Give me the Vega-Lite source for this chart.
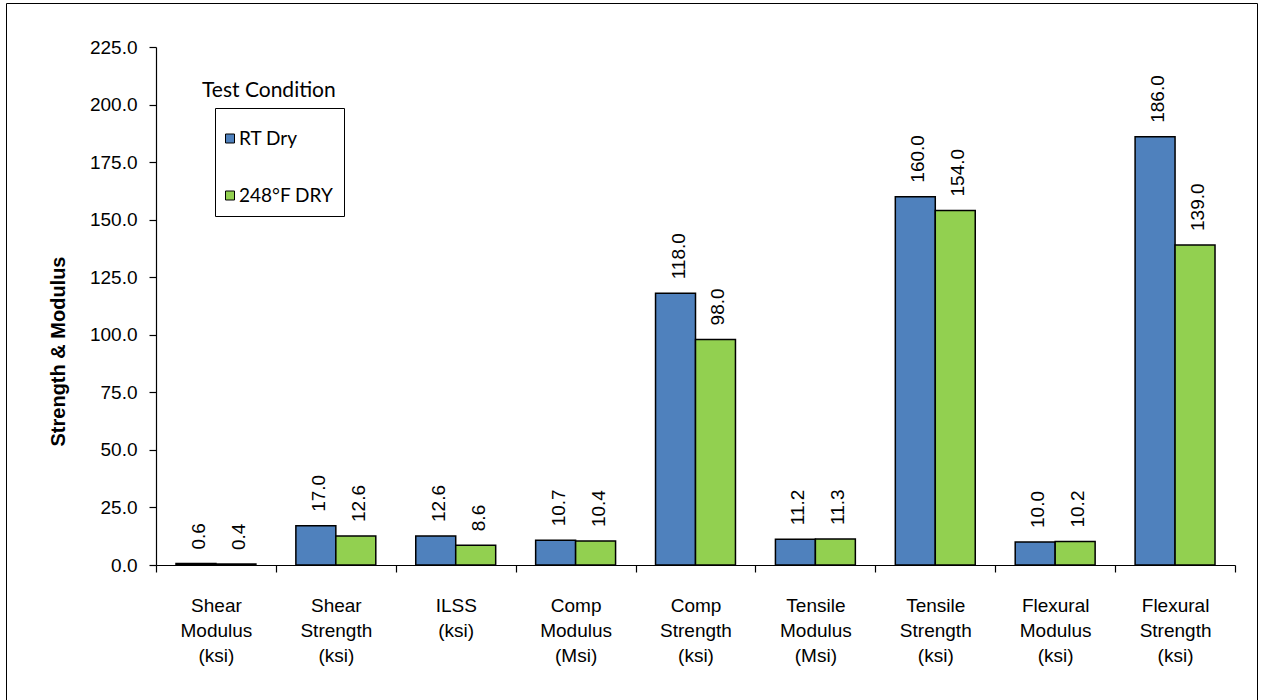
{
  "$schema": "https://vega.github.io/schema/vega-lite/v6.json",
  "autosize": {"type": "none"},
  "padding": {"left": 6, "top": 3, "right": 5, "bottom": 0},
  "width": 1251,
  "height": 700,
  "background": "white",
  "title": {
    "text": "Test Condition",
    "anchor": "start",
    "frame": "group",
    "orient": "top",
    "offset": 0,
    "dx": 196,
    "dy": 115,
    "baseline": "alphabetic",
    "font": "Lato",
    "fontSize": 21,
    "fontWeight": "normal",
    "color": "#000"
  },
  "data": {
    "values": [
      {"property": "Shear Modulus (ksi)", "condition": "RT Dry", "value": 0.6},
      {"property": "Shear Modulus (ksi)", "condition": "248°F DRY", "value": 0.4},
      {"property": "Shear Strength (ksi)", "condition": "RT Dry", "value": 17.0},
      {"property": "Shear Strength (ksi)", "condition": "248°F DRY", "value": 12.6},
      {"property": "ILSS (ksi)", "condition": "RT Dry", "value": 12.6},
      {"property": "ILSS (ksi)", "condition": "248°F DRY", "value": 8.6},
      {"property": "Comp Modulus (Msi)", "condition": "RT Dry", "value": 10.7},
      {"property": "Comp Modulus (Msi)", "condition": "248°F DRY", "value": 10.4},
      {"property": "Comp Strength (ksi)", "condition": "RT Dry", "value": 118.0},
      {"property": "Comp Strength (ksi)", "condition": "248°F DRY", "value": 98.0},
      {"property": "Tensile Modulus (Msi)", "condition": "RT Dry", "value": 11.2},
      {"property": "Tensile Modulus (Msi)", "condition": "248°F DRY", "value": 11.3},
      {"property": "Tensile Strength (ksi)", "condition": "RT Dry", "value": 160.0},
      {"property": "Tensile Strength (ksi)", "condition": "248°F DRY", "value": 154.0},
      {"property": "Flexural Modulus (ksi)", "condition": "RT Dry", "value": 10.0},
      {"property": "Flexural Modulus (ksi)", "condition": "248°F DRY", "value": 10.2},
      {"property": "Flexural Strength (ksi)", "condition": "RT Dry", "value": 186.0},
      {"property": "Flexural Strength (ksi)", "condition": "248°F DRY", "value": 139.0}
    ]
  },
  "encoding": {
    "x": {
      "field": "property",
      "type": "nominal",
      "sort": null,
      "scale": {"range": [150, 1229], "paddingInner": 0, "paddingOuter": 0},
      "axis": {
        "title": null,
        "orient": "bottom",
        "offset": -138,
        "labelAngle": 0,
        "labelExpr": "split(datum.label, ' ')",
        "labelFont": "Liberation Sans",
        "labelFontSize": 19,
        "labelLineHeight": 25,
        "labelColor": "#000",
        "labelBaseline": "top",
        "labelPadding": 24,
        "tickBand": "extent",
        "tickSize": 7,
        "tickColor": "#000",
        "tickWidth": 1.2,
        "domainColor": "#000",
        "domainWidth": 1.2,
        "grid": false
      }
    },
    "xOffset": {
      "field": "condition",
      "type": "nominal",
      "sort": ["RT Dry", "248°F DRY"],
      "scale": {"paddingInner": 0, "paddingOuter": 0.5}
    },
    "y": {
      "field": "value",
      "type": "quantitative",
      "scale": {"domain": [0, 225], "range": [562, 44], "nice": false, "zero": true},
      "axis": {
        "title": "Strength & Modulus",
        "orient": "left",
        "offset": -150,
        "values": [0, 25, 50, 75, 100, 125, 150, 175, 200, 225],
        "format": ".1f",
        "labelFont": "Liberation Sans",
        "labelFontSize": 19,
        "labelColor": "#000",
        "labelPadding": 12,
        "tickSize": 7,
        "tickColor": "#000",
        "tickWidth": 1.2,
        "domainColor": "#000",
        "domainWidth": 1.2,
        "grid": false,
        "titleFont": "Liberation Sans",
        "titleFontSize": 20,
        "titleFontWeight": "bold",
        "titleColor": "#000",
        "titleAngle": -90,
        "titleAlign": "center",
        "titleBaseline": "middle",
        "titleX": -98,
        "titleY": 348
      }
    }
  },
  "layer": [
    {
      "mark": {"type": "bar", "stroke": "#000", "strokeWidth": 1.5},
      "encoding": {
        "color": {
          "field": "condition",
          "type": "nominal",
          "sort": ["RT Dry", "248°F DRY"],
          "scale": {"domain": ["RT Dry", "248°F DRY"], "range": ["#4f81bd", "#92d050"]},
          "legend": {
            "title": null,
            "orient": "none",
            "legendX": 209,
            "legendY": 105,
            "direction": "vertical",
            "padding": 10,
            "strokeColor": "#000",
            "fillColor": "#fff",
            "symbolType": "M-1,-0.225H-0.55V0.225H-1Z",
            "symbolSize": 1600,
            "symbolStrokeColor": "#000",
            "symbolStrokeWidth": 1,
            "symbolOpacity": 1,
            "labelOffset": -27,
            "labelFont": "Lato",
            "labelFontSize": 19,
            "labelColor": "#000",
            "rowPadding": 26
          }
        }
      }
    },
    {
      "mark": {
        "type": "text",
        "angle": 270,
        "align": "left",
        "baseline": "middle",
        "dx": 14,
        "dy": 3,
        "font": "Liberation Sans",
        "fontSize": 19,
        "color": "#000"
      },
      "encoding": {
        "text": {"field": "value", "type": "quantitative", "format": ".1f"}
      }
    }
  ],
  "config": {
    "view": {"stroke": "#000", "strokeWidth": 1}
  }
}
